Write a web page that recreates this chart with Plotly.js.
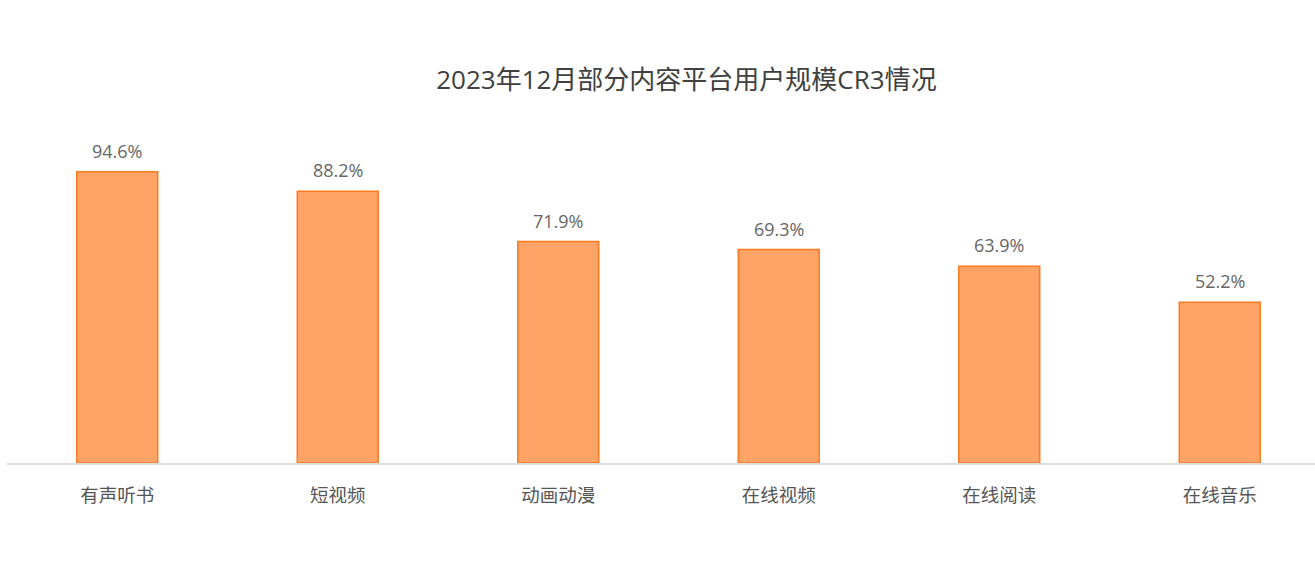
<!DOCTYPE html>
<html>
<head>
<meta charset="utf-8">
<script src="https://cdn.plot.ly/plotly-3.0.1.min.js"></script>
<style>html,body{margin:0;padding:0;background:#fff;}#chart{width:1315px;height:574px;}</style>
</head>
<body>
<div id="chart"></div>
<script>
const categories = ["有声听书", "短视频", "动画动漫", "在线视频", "在线阅读", "在线音乐"];
const values = [94.6, 88.2, 71.9, 69.3, 63.9, 52.2];
const valueLabels = ["94.6%", "88.2%", "71.9%", "69.3%", "63.9%", "52.2%"];

const fontFamily = '"Open Sans", "Noto Sans CJK SC", sans-serif';

const trace = {
  type: 'bar',
  x: categories,
  y: values,
  marker: { color: '#FFA366', line: { color: '#FF7A1F', width: 1.5 } },
  hoverinfo: 'x+y'
};

const annotations = categories.map((c, i) => ({
  x: c, y: values[i], text: valueLabels[i],
  showarrow: false, yanchor: 'bottom', yshift: 7,
  font: { family: fontFamily, size: 18, color: '#666' }
}));

const layout = {
  width: 1315, height: 574,
  margin: { l: 7, r: 0, t: 155, b: 111 },
  paper_bgcolor: '#fff', plot_bgcolor: '#fff',
  title: { text: '2023年12月部分内容平台用户规模CR3情况', x: 0.522, xanchor: 'center', y: 0.86, yanchor: 'middle',
           font: { family: fontFamily, size: 26, color: '#404040' } },
  bargap: 0.633,
  showlegend: false,
  xaxis: {
    type: 'category', range: [-0.5, 5.432],
    showline: true, linecolor: '#DDDDDD', linewidth: 2,
    ticks: '', showgrid: false, zeroline: false,
    ticklabelstandoff: 15,
    tickfont: { family: fontFamily, size: 18.5, color: '#555' }
  },
  yaxis: {
    range: [0, 100], visible: false, showgrid: false, zeroline: false
  },
  annotations: annotations
};

Plotly.newPlot('chart', [trace], layout, { displayModeBar: false, staticPlot: true });
</script>
</body>
</html>
